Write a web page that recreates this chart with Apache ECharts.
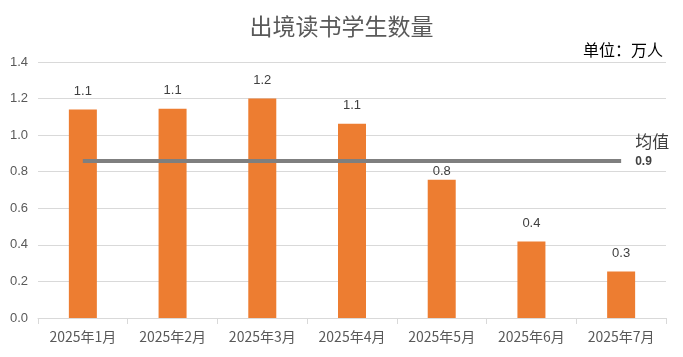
<!DOCTYPE html>
<html><head><meta charset="utf-8">
<script src="https://cdn.jsdelivr.net/npm/echarts@6/dist/echarts.min.js"></script>
<style>html,body{margin:0;padding:0;background:#fff}#c{width:683px;height:357px}</style>
</head><body><div id="c"></div>
<script>
const categories = ['2025年1月','2025年2月','2025年3月','2025年4月','2025年5月','2025年6月','2025年7月'];
const students = [1.14, 1.145, 1.2, 1.062, 0.756, 0.418, 0.254];
const meanValue = 0.86;
const yTicks = [0, 0.2, 0.4, 0.6, 0.8, 1.0, 1.2, 1.4];

const barData = students.map((v, i) => i === 4 ? {value: v, label: {distance: 2}} : v);

const chart = echarts.init(document.getElementById('c'));
chart.setOption({
  animation: false,
  title: [{
    text: '出境读书学生数量', left: 'center', top: 10,
    textStyle: {fontFamily: 'Noto Sans CJK SC', fontSize: 23, fontWeight: 'normal', color: '#595959'}
  }, {
    text: '单位：万人', right: 15, top: 37,
    textStyle: {fontFamily: 'Noto Sans CJK SC', fontSize: 16, fontWeight: 'normal', color: '#000'}
  }],
  grid: {left: 38, right: 17, top: 62, bottom: 39},
  xAxis: {
    type: 'category', data: categories,
    axisLine: {lineStyle: {color: '#d9d9d9'}},
    axisTick: {show: true, length: 6, lineStyle: {color: '#d9d9d9'}},
    axisLabel: {color: '#595959', fontSize: 14, margin: 12, fontFamily: 'Noto Sans CJK SC'}
  },
  yAxis: {
    type: 'value', min: yTicks[0], max: yTicks[yTicks.length-1], interval: 0.2,
    axisLine: {show: false}, axisTick: {show: false},
    splitLine: {lineStyle: {color: '#d9d9d9'}},
    axisLabel: {color: '#595959', fontSize: 13, margin: 10, formatter: v => v.toFixed(1)}
  },
  series: [{
    type: 'bar', data: barData, barWidth: 28,
    itemStyle: {color: '#ed7d31'},
    label: {show: true, position: 'top', distance: 12, color: '#404040', fontSize: 13,
      formatter: p => p.value.toFixed(1)},
    markLine: {
      symbol: 'none', silent: true,
      lineStyle: {color: '#7f7f7f', width: 4, type: 'solid'},
      label: {show: true, position: 'end', distance: 14,
        padding: [0, 0, 20, 0],
        formatter: () => '{a|均值}\n{b|' + meanValue.toFixed(1) + '}',
        rich: {
          a: {fontSize: 17, color: '#404040', fontFamily: 'Noto Sans CJK SC', lineHeight: 22},
          b: {fontSize: 12, fontWeight: 'bold', color: '#404040', lineHeight: 18, align: 'left'}
        }
      },
      data: [[{xAxis: categories[0], yAxis: meanValue}, {xAxis: categories[categories.length-1], yAxis: meanValue}]]
    }
  }]
});
</script></body></html>
